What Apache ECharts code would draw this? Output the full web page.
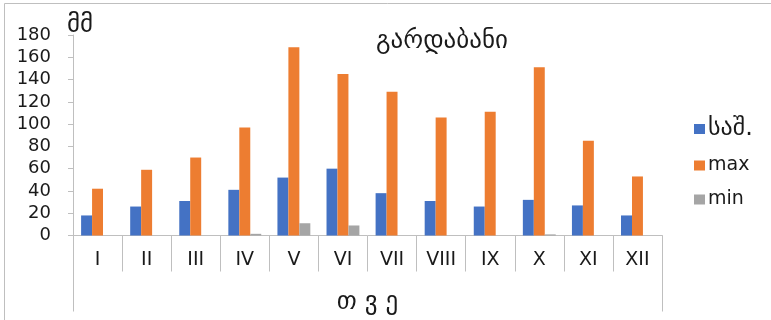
<!DOCTYPE html>
<html>
<head>
<meta charset="utf-8">
<script src="https://cdn.jsdelivr.net/npm/echarts@6/dist/echarts.min.js"></script>
<style>
  html, body { margin: 0; padding: 0; background: #fff; }
  #chart { width: 771px; height: 320px; }
</style>
</head>
<body>
<div id="chart"></div>
<script>
// Monthly precipitation, Gardabani (mm)
const months = ['I', 'II', 'III', 'IV', 'V', 'VI', 'VII', 'VIII', 'IX', 'X', 'XI', 'XII'];
const meanValues = [18, 26, 31, 41, 52, 60, 38, 31, 26, 32, 27, 18];
const maxValues = [42, 59, 70, 97, 169, 145, 129, 106, 111, 151, 85, 53];
const minValues = [0, 0, 0, 1.5, 11, 9, 0, 0, 0, 1, 0, 0];
const seriesNames = ['საშ.', 'max', 'min'];
const groupLabel = ['თ ვ ე'];

const geoFont = 'DejaVu Sans';
const textColor = '#1a1a1a';
const lineColor = '#bfbfbf';

const chart = echarts.init(document.getElementById('chart'));
chart.setOption({
  animation: false,
  backgroundColor: '#fff',
  color: ['#4472C4', '#ED7D31', '#A5A5A5'],
  title: {
    text: 'გარდაბანი',
    left: 437,
    textAlign: 'center',
    top: 23,
    textStyle: { fontFamily: geoFont, fontSize: 25, fontWeight: 'normal', color: textColor, lineHeight: 26 }
  },
  legend: {
    orient: 'vertical',
    left: 689,
    top: 112,
    itemWidth: 11,
    itemHeight: 10,
    itemGap: 15,
    icon: 'rect',
    formatter: function (name) {
      return /[\u10A0-\u10FF]/.test(name) ? '{g|' + name + '}' : '{l|' + name + '}';
    },
    textStyle: {
      fontFamily: geoFont, fontSize: 18, color: textColor, padding: [0, 0, 0, -2],
      rich: {
        g: { fontFamily: geoFont, fontSize: 24, color: textColor, lineHeight: 20 },
        l: { fontFamily: geoFont, fontSize: 19, color: textColor, lineHeight: 20 }
      }
    },
    data: seriesNames
  },
  grid: { left: 73, right: 109, top: 35, bottom: 84.5, containLabel: false },
  xAxis: [
    {
      type: 'category',
      data: months,
      position: 'bottom',
      axisLine: { show: true, lineStyle: { color: lineColor, width: 1 } },
      axisTick: { show: true, length: 36, interval: 0, lineStyle: { color: lineColor } },
      axisLabel: { interval: 0, margin: 15, fontFamily: geoFont, fontSize: 19, color: textColor },
      splitLine: { show: false }
    },
    {
      type: 'category',
      data: groupLabel,
      position: 'bottom',
      axisLine: { show: false },
      axisTick: { show: true, length: 76, lineStyle: { color: lineColor } },
      axisLabel: { margin: 54, fontFamily: geoFont, fontSize: 25, color: textColor },
      splitLine: { show: false }
    }
  ],
  yAxis: {
    type: 'value',
    min: 0,
    max: 180,
    interval: 20,
    name: 'მმ',
    nameLocation: 'end',
    nameGap: 0,
    nameTextStyle: { fontFamily: geoFont, fontSize: 25, lineHeight: 20, color: textColor, align: 'left', padding: [0, 0, 0, -6] },
    axisLine: { show: true, lineStyle: { color: lineColor, width: 1 } },
    axisTick: { show: true, length: 5, lineStyle: { color: lineColor } },
    axisLabel: { margin: 22, fontFamily: geoFont, fontSize: 18, color: textColor },
    splitLine: { show: false }
  },
  graphic: [
    { type: 'line', shape: { x1: 4.5, y1: 3.5, x2: 771, y2: 3.5 }, style: { stroke: lineColor, lineWidth: 1 } },
    { type: 'line', shape: { x1: 4.5, y1: 3.5, x2: 4.5, y2: 320 }, style: { stroke: lineColor, lineWidth: 1 } }
  ],
  series: [
    { name: seriesNames[0], type: 'bar', data: meanValues, barGap: '0%', barCategoryGap: '33%' },
    { name: seriesNames[1], type: 'bar', data: maxValues, barGap: '0%', barCategoryGap: '33%' },
    { name: seriesNames[2], type: 'bar', data: minValues, barGap: '0%', barCategoryGap: '33%' }
  ]
});
</script>
</body>
</html>
